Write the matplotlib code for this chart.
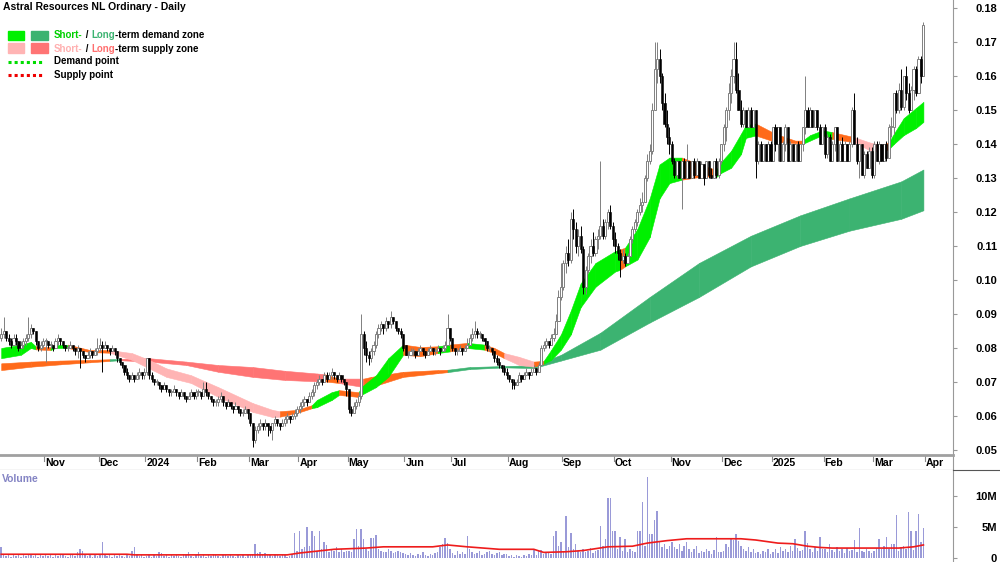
import numpy as np
import pandas as pd
import matplotlib
matplotlib.use("Agg")
import matplotlib.pyplot as plt
from matplotlib.patches import Rectangle
from matplotlib.lines import Line2D

plt.rcParams.update({"font.family": ["Liberation Sans", "DejaVu Sans"]})
plt.rcParams.update({"font.weight": "bold"})

W, H = 1000, 562

# ASX trading days shown on the chart
holidays = ["2023-12-25", "2023-12-26", "2024-01-01", "2024-01-26", "2024-03-29",
            "2024-04-01", "2024-04-25", "2024-06-10", "2024-12-25", "2024-12-26",
            "2025-01-01", "2025-01-27"]

# daily open high low close, in 1/1000 dollar, one line per month
ohlc_text = """
83 86 82 84, 84 89 83 85, 85 85 82 83, 83 84 81 82, 82 83 80 81, 81 84 81 83, 83 84 81 82, 82 82 79 80, 80 82 80 81, 81 83 80 82, 82 84 81 83, 83 89 82 84, 84 87 83 86, 86 86 84 85, 85 85 81 82, 82 82 79 80, 80 82 79 81, 81 83 80 82
82 83 76 82, 82 82 80 81, 81 82 80 81, 81 81 79 80, 80 83 80 82, 82 84 81 83, 83 83 81 82, 82 82 80 81, 81 81 79 80, 80 81 79 80, 80 82 80 81, 81 81 79 80, 80 80 78 79, 79 81 77 80, 80 80 74 79, 79 79 77 78, 78 78 76 77, 77 79 77 78, 78 80 77 79, 79 79 77 78, 78 80 78 79, 79 83 78 80
80 83 79 81, 81 82 73 80, 80 82 80 81, 81 81 79 80, 80 80 78 79, 79 81 79 80, 80 80 78 79, 79 79 76 77, 77 77 75 76, 76 76 74 75, 75 75 72 73, 73 74 71 72, 72 72 70 71, 71 73 71 72, 72 72 70 71, 71 73 71 72, 72 74 71 73, 73 73 71 72, 72 74 71 73
73 77 72 77, 77 77 71 72, 72 73 70 71, 71 71 69 70, 70 71 69 70, 70 70 68 69, 69 69 67 68, 68 70 68 69, 69 69 67 68, 68 68 66 67, 67 68 66 67, 67 69 67 68, 68 68 66 67, 67 67 65 66, 66 68 66 67, 67 67 65 66, 66 66 64 65, 65 67 65 66, 66 68 66 67, 67 67 65 66, 66 68 65 67
67 68 66 67, 67 67 65 66, 66 70 66 68, 68 70 66 67, 67 67 65 66, 66 66 64 65, 65 65 63 64, 64 65 63 64, 64 66 63 65, 65 67 64 66, 66 66 63 64, 64 64 62 63, 63 65 63 64, 64 64 62 63, 63 63 61 62, 62 64 62 63, 63 63 61 62, 62 62 60 61, 61 62 60 61, 61 63 61 62, 62 62 59 61
61 61 57 58, 58 58 51 53, 53 57 52 56, 56 58 55 57, 57 59 56 58, 58 58 56 57, 57 59 56 58, 58 58 54 57, 57 57 55 56, 56 58 53 58, 58 60 57 59, 59 59 57 58, 58 58 56 57, 57 59 57 58, 58 60 57 59, 59 61 58 60, 60 60 58 59, 59 61 59 60, 60 62 59 61, 61 63 60 62
62 64 61 63, 63 65 62 64, 64 66 63 65, 65 65 63 64, 64 67 64 66, 66 68 65 67, 67 70 66 69, 69 71 68 70, 70 72 69 71, 71 71 69 70, 70 73 70 72, 72 73 70 71, 71 73 71 72, 72 74 71 73, 73 73 71 72, 72 72 70 71, 71 73 71 72, 72 72 70 71, 71 71 69 70, 70 70 66 68
68 68 61 62, 62 63 60 61, 61 64 61 63, 63 65 62 64, 64 67 63 66, 66 90 65 84, 84 85 78 80, 80 82 76 78, 78 79 75 77, 77 80 76 79, 79 82 78 81, 81 85 80 84, 84 87 83 86, 86 88 85 87, 87 87 84 86, 86 89 85 88, 88 88 86 87, 87 91 86 89, 89 89 87 88, 88 88 85 86, 86 86 84 85, 85 86 83 84, 84 84 79 80
81 81 78 78, 78 79 77 78, 78 80 78 79, 79 80 78 79, 79 79 77 78, 78 80 78 79, 79 81 79 80, 80 80 78 79, 79 79 77 78, 78 80 78 79, 79 81 79 80, 80 80 78 79, 79 80 78 79, 79 81 79 80, 80 80 78 79, 79 81 79 80, 80 82 79 81, 81 90 81 86, 86 86 82 83
83 83 79 80, 80 80 78 79, 79 80 78 79, 79 81 79 80, 80 80 78 79, 79 81 79 80, 80 83 80 81, 81 84 81 83, 83 86 82 84, 84 88 83 85, 85 86 83 84, 84 85 83 84, 84 84 82 83, 83 83 81 82, 82 82 79 80, 80 81 79 80, 80 80 78 79, 79 79 76 77, 77 78 75 76, 76 77 74 75, 75 75 73 74, 74 75 72 73, 73 74 71 72
72 72 70 71, 71 71 68 70, 70 71 68 69, 69 71 69 70, 70 73 70 72, 72 72 70 71, 71 73 71 72, 72 74 72 73, 73 73 71 72, 72 74 72 73, 73 75 73 74, 74 74 72 73, 73 76 73 75, 75 81 75 80, 80 82 79 81, 81 83 80 82, 82 82 80 81, 81 84 81 83, 83 86 82 84, 84 90 84 88, 88 97 88 95, 95 105 94 98
98 106 97 105, 105 110 102 108, 108 112 104 106, 106 120 105 118, 118 121 112 115, 115 117 108 110, 110 115 107 113, 113 116 108 109, 109 110 96 98, 98 104 96 103, 103 108 102 107, 107 112 105 110, 110 114 107 108, 108 113 107 112, 112 115 109 113, 113 135 112 116, 116 118 112 113, 113 118 112 117, 117 121 115 120, 120 122 115 116, 116 117 110 112
112 114 108 110, 110 111 106 108, 108 109 101 106, 106 109 105 107, 107 108 104 105, 105 108 105 107, 107 113 107 112, 112 116 111 115, 115 118 114 117, 117 121 116 120, 120 124 119 122, 122 126 120 123, 123 131 123 130, 130 137 129 135, 135 140 134 138, 138 152 137 150, 150 170 150 162, 162 170 158 165, 165 168 158 160, 160 161 150 152, 152 155 145 146, 146 150 140 142, 142 145 137 140
140 141 134 135, 135 136 130 131, 131 135 130 135, 135 135 130 130, 130 135 121 135, 135 136 130 130, 130 140 130 135, 135 135 130 130, 130 135 130 135, 135 136 130 131, 131 136 131 135, 135 135 130 130, 130 135 130 134, 134 134 128 130, 130 135 130 135, 135 135 130 131, 131 133 130 130, 130 135 130 135, 135 136 130 131, 131 136 130 135, 135 140 134 140
140 146 138 145, 145 151 141 150, 150 158 147 155, 155 162 152 160, 160 170 158 165, 165 170 155 156, 156 161 150 150, 150 153 145 146, 146 151 145 150, 150 150 145 145, 145 151 145 150, 150 151 145 145, 145 150 145 150, 150 150 130 135, 135 141 134 140, 140 141 135 135, 135 140 135 140, 140 140 135 135, 135 141 135 140, 140 141 135 135
135 145 135 145, 145 146 138 140, 140 145 135 145, 145 145 135 135, 135 141 135 140, 140 146 138 145, 145 145 135 135, 135 141 135 140, 140 140 135 135, 135 140 135 140, 140 141 135 135, 135 140 135 140, 140 145 138 145, 145 160 143 150, 150 151 145 145, 145 151 145 150, 150 150 145 145, 145 150 145 150, 150 150 144 145, 145 146 140 140, 140 145 140 145
145 146 136 137, 137 143 136 142, 142 143 135 135, 135 141 135 140, 140 145 138 145, 145 145 135 135, 135 141 135 140, 140 142 135 135, 135 141 135 140, 140 140 135 135, 135 141 135 140, 140 151 139 150, 150 155 140 140, 140 142 134 135, 135 140 130 140, 140 140 131 131, 131 138 130 137, 137 138 133 133, 133 139 133 138, 138 139 130 131
131 141 130 140, 140 141 135 135, 135 141 134 140, 140 140 135 135, 135 140 135 140, 140 141 135 136, 136 146 136 145, 145 148 142 145, 145 155 143 155, 155 156 149 150, 150 158 149 156, 156 162 150 151, 151 160 150 160, 160 163 153 155, 155 158 149 150, 150 157 150 156, 156 163 153 162, 162 163 154 155, 155 166 155 165, 165 166 158 160, 160 176 160 175
"""

# daily volume, 0.1M shares
volume = [18, 4, 3, 5, 2, 6, 3, 4, 2, 5, 3, 7, 4, 3, 5, 2, 4, 3,
          4, 3, 5, 2, 6, 3, 4, 5, 3, 2, 4, 6, 3, 9, 14, 11, 4, 3, 5, 2, 4, 3,
          5, 25, 4, 3, 6, 2, 4, 3, 5, 3, 2, 4, 3, 12, 17, 6, 3, 4, 2,
          3, 4, 2, 5, 3, 9, 8, 3, 4, 2, 5, 3, 4, 3, 2, 6, 4, 10, 3, 2, 4,
          10, 3, 4, 2, 5, 3, 6, 4, 3, 2, 5, 4, 3, 7, 3, 2, 4, 3, 5, 2, 4,
          4, 6, 23, 8, 9, 7, 8, 5, 4, 3, 6, 4, 3, 5, 4, 2, 3, 6, 40, 12,
          43, 15, 18, 50, 20, 44, 35, 12, 44, 14, 25, 21, 9, 15, 12, 18, 10, 14, 9, 12,
          12, 10, 30, 47, 20, 47, 31, 14, 12, 32, 33, 37, 15, 12, 10, 9, 14, 11, 8, 10, 12, 9, 8,
          6, 4, 8, 5, 3, 7, 4, 9, 5, 3, 6, 4, 8, 10, 18, 22, 33, 24, 15,
          8, 5, 12, 6, 9, 7, 36, 14, 10, 6, 8, 12, 5, 7, 9, 11, 6, 4, 8, 10, 5, 7, 6,
          3, 4, 2, 5, 3, 2, 4, 3, 6, 4, 14, 5, 12, 13, 6, 8, 9, 7, 35, 43, 20, 25,
          12, 67, 18, 40, 15, 22, 12, 10, 14, 9, 12, 16, 8, 11, 13, 52, 20, 30, 96, 96, 43,
          44, 15, 34, 12, 31, 10, 14, 11, 9, 44, 44, 90, 20, 130, 39, 39, 61, 76, 25, 18, 22, 15, 20,
          25, 18, 15, 22, 12, 20, 26, 15, 10, 14, 20, 8, 12, 9, 15, 11, 7, 13, 34, 10, 9,
          12, 22, 18, 31, 29, 38, 27, 20, 15, 12, 18, 9, 14, 8, 10, 7, 12, 9, 15, 6,
          10, 14, 8, 17, 12, 15, 9, 20, 11, 31, 16, 12, 13, 44, 24, 15, 10, 18, 12, 34, 14,
          15, 10, 22, 13, 9, 17, 11, 14, 8, 16, 12, 13, 29, 10, 48, 12, 9, 14, 11, 8,
          12, 16, 30, 14, 20, 34, 15, 22, 23, 69, 12, 18, 20, 15, 75, 43, 13, 44, 71, 26, 48]

# volume average line (bar number, millions)
vma_bar = [0, 51, 54, 116, 121, 135, 148, 155, 175, 181, 189, 202, 216, 220, 229, 236,
           246, 256, 262, 270, 278, 300, 306, 315, 321, 327, 332, 337, 364, 370, 374]
vma_val = [0.6, 0.6, 0.5, 0.5, 0.8, 1.4, 1.6, 1.8, 1.8, 2.1, 1.8, 1.4, 1.4, 0.9, 1.0, 1.2,
           1.8, 1.9, 2.4, 2.8, 3.1, 3.1, 2.9, 2.4, 2.3, 1.9, 1.7, 1.6, 1.6, 1.8, 2.1]

# short-term zone edges (bar number, 1/1000 dollar) and state: g demand, p supply, o neutral
short_bar = [0, 8, 12, 14, 20, 22, 27, 36, 44, 53, 60, 67, 77, 88, 102, 110, 113, 120, 126, 128,
             134, 137, 145, 146, 152, 157, 163, 170, 177, 182, 189, 196, 200, 204, 210, 216, 220, 223, 227, 231,
             235, 241, 249, 251, 253, 258, 263, 267, 271, 276, 285, 290, 292, 296, 300, 302, 306, 314, 322, 325,
             328, 333, 337, 346, 352, 357, 360, 362, 366, 371, 374]
short_hi = [80, 81, 81.8, 80.5, 80.2, 81, 81, 79.4, 79.4, 78.5, 76.5, 74, 72, 68.5, 63.8, 61.8, 61.4, 61.8, 63.2, 64.7,
            67, 67.6, 67, 68.5, 72, 77, 81, 80.3, 80.5, 81, 81.5, 81, 80, 78.5, 77.4, 76, 76.2, 79.4, 84, 91,
            99, 105, 108.5, 109, 109.5, 115, 124, 134, 136, 136, 133.5, 132.4, 134.7, 138, 143, 145.6, 146, 143, 141, 141,
            142.6, 144, 143.5, 142, 140.5, 139.7, 140.5, 143, 147.6, 150.6, 152.4]
short_lo = [77, 78, 80, 79.6, 79.4, 80, 80, 78.8, 78.6, 76.5, 74, 71.5, 69.7, 65.6, 61.2, 59.7, 59.8, 60.9, 62.3, 62.6,
            64.7, 66.2, 65.6, 66.2, 68.5, 71.5, 78, 77.6, 78.5, 79, 80, 79.5, 78.5, 77, 75, 74.5, 75.4, 76.5, 79.5, 84,
            92, 98, 102.5, 103, 104, 106, 112.6, 124, 128.5, 129.5, 130.5, 130.3, 131.5, 133, 137, 141.8, 142.5, 140.6, 140.3, 140,
            141, 142.6, 141.5, 140.5, 138.2, 137.6, 138.5, 140, 142.6, 144.7, 146.5]
short_state = list("gggoggoopp" "ppppppoogg" "goggggoogo" "gooppogggg" "gggogggggo" "ogggggooog" "ggoppoggggg")

# long-term zone edges
long_bar = [0, 12, 24, 36, 44, 48, 60, 75, 88, 102, 115, 128, 131, 137, 147, 150, 163, 177, 181, 190,
            204, 216, 227, 243, 263, 283, 304, 324, 344, 365, 374]
long_hi = [75.5, 76, 76.3, 76.5, 76.7, 76.8, 77, 76, 75, 74.4, 73.3, 72.5, 72.3, 71, 71, 71.5, 73, 73.5, 73.6, 74.4,
           74.7, 74.9, 78, 84.5, 95, 105, 113, 119, 124, 129, 132.5]
long_lo = [73.5, 74.5, 75.2, 75.8, 76.2, 76.4, 76, 75, 73, 71.5, 70.6, 70.2, 70.2, 69.7, 68.5, 68.5, 71.5, 72.6, 72.9, 73.8,
           74.3, 74.1, 76.3, 79.5, 87.5, 95, 104, 110, 114.5, 118, 120.5]
long_state = list("ooooGPPPPP" "PPoPooooGG" "GGGGGGGGGGG")

zone_color = {"g": "#00f000", "p": "#ffb4b4", "o": "#ff6a1a", "G": "#3cb371", "P": "#ff7474"}

# ---------------------------------------------------------------------------
days = pd.bdate_range("2023-10-06", "2025-03-31")
days = days[~days.isin(pd.to_datetime(holidays))]

rows = [r.split() for r in ohlc_text.replace("\n", ",").split(",") if r.strip()]
n = min(len(rows), len(days), len(volume))
o, hi, lo, c = (np.array([float(r[k]) for r in rows[:n]]) / 1000 for k in range(4))
days = days[:n]
idx = np.arange(n)

fig = plt.figure(figsize=(W / 100, H / 100), dpi=100)
ax = fig.add_axes([0, 1 - 455 / H, 953 / W, 455 / H])
strip = fig.add_axes([0, 1 - 470 / H, 953 / W, 15 / H])
vax = fig.add_axes([0, 0, 953 / W, 92 / H])

x0, x1 = -0.49, 386
ax.set_xlim(x0, x1)
ax.set_ylim(0.04853, 0.18235)

# zones
def draw_zone(bars, top, bot, state):
    bars = np.array(bars, dtype=float)
    top = np.array(top) / 1000
    bot = np.array(bot) / 1000
    for i in range(len(bars) - 1):
        col = zone_color[state[i]]
        ax.fill_between(bars[i:i + 2], bot[i:i + 2], top[i:i + 2], color=col, lw=0.4, zorder=2)

draw_zone(long_bar, long_hi, long_lo, long_state)
draw_zone(short_bar, short_hi, short_lo, short_state)

# candles
up = c >= o
gray = "#808080"
ax.vlines(idx[up], lo[up], hi[up], color=gray, lw=0.7, zorder=3)
ax.vlines(idx[~up], lo[~up], hi[~up], color="black", lw=0.7, zorder=3)
body_lo = np.minimum(o, c)
body_h = np.maximum(np.abs(c - o), 0.0003)
ax.bar(idx[up], body_h[up], bottom=body_lo[up], width=0.85, facecolor="white",
       edgecolor=gray, lw=0.7, zorder=4)
ax.bar(idx[~up], body_h[~up], bottom=body_lo[~up], width=0.85, facecolor="black",
       edgecolor="black", lw=0.4, zorder=4)

lab_pad = 28.7
ax.yaxis.tick_right()
ax.set_yticks(np.arange(0.05, 0.181, 0.01))
ax.set_yticklabels(["%.2f" % v for v in np.arange(0.05, 0.181, 0.01)])
ax.tick_params(axis="y", direction="out", length=3, width=0.8, color="#999999",
               pad=lab_pad, labelsize=8)
for t in ax.get_yticklabels():
    t.set_horizontalalignment("right")
ax.set_xticks([])
for s in ["left", "top", "bottom"]:
    ax.spines[s].set_visible(False)
ax.spines["right"].set_color("#999999")

# month strip
starts = [i for i in range(1, n) if days[i].month != days[i - 1].month]
strip.set_xlim(x0, x1)
strip.set_ylim(0, 1)
for i in starts:
    d = days[i]
    lab = str(d.year) if d.month == 1 else d.strftime("%b")
    strip.plot([i - 0.5, i - 0.5], [1, 0.62], color="#888888", lw=0.8)
    strip.text(i - 0.1, 0.45, lab, fontsize=7.6, fontweight="bold", va="center", ha="left")
strip.text(n - 0.5 + 0.6, 0.45, "Apr", fontsize=7.6, fontweight="bold", va="center", ha="left", clip_on=False)
strip.plot([n - 0.5, n - 0.5], [1, 0.62], color="#888888", lw=0.8)
strip.set_xticks([])
strip.set_yticks([])
strip.spines["left"].set_visible(False)
strip.spines["right"].set_color("#999999")
strip.spines["top"].set_color("#a0a0a0")
strip.spines["top"].set_linewidth(2)
strip.spines["bottom"].set_color("#555555")
strip.spines["bottom"].set_linewidth(0.8)
fig.add_artist(Line2D([953 / W, 1], [1 - 469.5 / H, 1 - 469.5 / H], color="#555555", lw=0.8))

# volume
vol = np.array(volume[:n]) / 10.0
vax.set_xlim(x0, x1)
vax.set_ylim(-0.65, 14.2)
vax.bar(idx, vol, width=0.6, color="#9a9ad8", zorder=2)
vax.plot(vma_bar, vma_val, color="#ee1c1c", lw=1.2, zorder=3)
vax.yaxis.tick_right()
vax.set_yticks([0, 5, 10])
vax.set_yticklabels(["0", "5M", "10M"])
vax.tick_params(axis="y", direction="out", length=3, width=0.8, color="#999999",
                pad=lab_pad, labelsize=8)
for t in vax.get_yticklabels():
    t.set_horizontalalignment("right")
vax.set_xticks([])
for s in ["left", "top", "bottom"]:
    vax.spines[s].set_visible(False)
vax.spines["right"].set_color("#999999")
fig.text(2 / W, 1 - 479 / H, "Volume", color="#8484c4", fontsize=7.5, fontweight="bold", va="center")

# title and legend
fig.text(3 / W, 1 - 7.5 / H, "Astral Resources NL Ordinary - Daily", fontsize=7.5,
         fontweight="bold", va="center")

def text_row(x, y, parts, size=7.05):
    r = fig.canvas.get_renderer()
    for s, col in parts:
        t = fig.text(x / W, 1 - y / H, s, color=col, fontsize=size, fontweight="bold", va="center")
        x += t.get_window_extent(r).width

def box(x, y, w, h, col):
    fig.add_artist(Rectangle((x / W, 1 - (y + h) / H), w / W, h / H, color=col,
                             transform=fig.transFigure))

box(8, 31, 16, 9, zone_color["g"])
box(31, 31, 17, 9, zone_color["G"])
box(8, 43, 16, 10, zone_color["p"])
box(31, 43, 17, 10, zone_color["P"])
text_row(54, 35.5, [("Short-", "#00d000"), (" / ", "black"), ("Long", "#3cb371"),
                    ("-term demand zone", "black")])
text_row(54, 48.5, [("Short-", "#ffb0b0"), (" / ", "black"), ("Long", "#ff6f6f"),
                    ("-term supply zone", "black")])
fig.add_artist(Line2D([8 / W, 44 / W], [1 - 61.5 / H] * 2, color="#00dd00", lw=2.2, ls=(0, (1, 1))))
fig.add_artist(Line2D([8 / W, 44 / W], [1 - 74.5 / H] * 2, color="#ee0000", lw=2.2, ls=(0, (1, 1))))
text_row(54, 61.5, [("Demand point", "black")])
text_row(54, 74.5, [("Supply point", "black")])

fig.savefig("out.png", dpi=100)
